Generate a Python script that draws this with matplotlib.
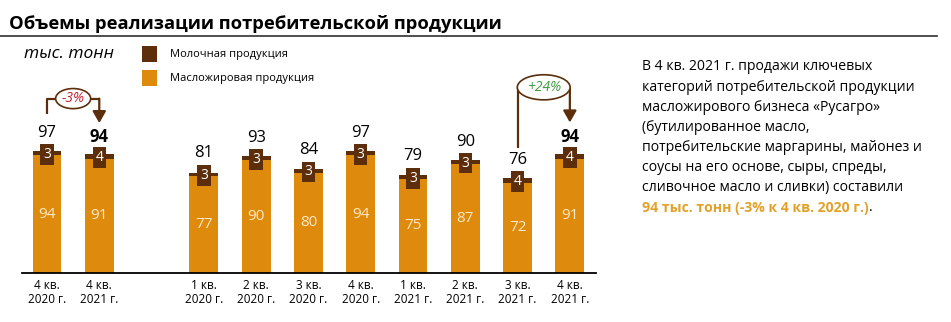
import matplotlib.pyplot as plt
from matplotlib.patches import Ellipse, Rectangle
from matplotlib.lines import Line2D

plt.rcParams["font.family"] = ["Open Sans", "DejaVu Sans"]

# data
categories = ["4 кв.\n2020 г.", "4 кв.\n2021 г.",
              "1 кв.\n2020 г.", "2 кв.\n2020 г.", "3 кв.\n2020 г.", "4 кв.\n2020 г.",
              "1 кв.\n2021 г.", "2 кв.\n2021 г.", "3 кв.\n2021 г.", "4 кв.\n2021 г."]
positions = [0, 1, 3, 4, 5, 6, 7, 8, 9, 10]
oil_fat = [94, 91, 77, 90, 80, 94, 75, 87, 72, 91]
dairy = [3, 4, 3, 3, 3, 3, 3, 3, 4, 4]
totals = [97, 94, 81, 93, 84, 97, 79, 90, 76, 94]
bold_totals = [1, 9]

yoy_change = "-3%"
qoq_change = "+24%"

ORANGE = "#DE8A0C"
BROWN = "#5C2E0B"
CREAM = "#FCE9C8"

W, H = 951, 322
fig = plt.figure(figsize=(W / 100, H / 100), dpi=100)

# axes placed in pixels: baseline at y=273, x from 22 to 596
ax = fig.add_axes([22 / W, (H - 273) / H, (596 - 22) / W, (273 - 40) / H])
ax.set_xlim(-0.478, 10.5)
ax.set_ylim(0, 185.7)

ax.bar(positions, oil_fat, width=0.55, color=ORANGE, zorder=2)
ax.bar(positions, dairy, bottom=oil_fat, width=0.55, color=BROWN, zorder=2)

for i, (x, o, d, t) in enumerate(zip(positions, oil_fat, dairy, totals)):
    ax.text(x, o / 2, str(o), ha="center", va="center", color=CREAM, fontsize=11)
    ax.text(x, o + d / 2 - 1, str(d), ha="center", va="center", color="white",
            fontsize=10, zorder=4,
            bbox=dict(boxstyle="square,pad=0.2", fc=BROWN, ec="none"))
    ax.annotate(str(t), xy=(x, t), xytext=(0, 13), textcoords="offset points",
                ha="center", va="center", fontsize=12,
                fontweight="bold" if i in bold_totals else "normal")

for s in ["top", "left", "right"]:
    ax.spines[s].set_visible(False)
ax.spines["bottom"].set_linewidth(1.3)
ax.set_yticks([])
ax.set_xticks(positions)
ax.set_xticklabels(categories, fontsize=8.5, linespacing=1.1)
ax.tick_params(axis="x", length=0, pad=4)


def change_arrow(x0, x1, y_start, y_top, y_tip, label, color, ew, eh):
    xm = (x0 + x1) / 2
    ax.plot([x0, x0, x1, x1], [y_start, y_top, y_top, y_top], color=BROWN, lw=1.6,
            solid_capstyle="butt", clip_on=False)
    ax.annotate("", xy=(x1, y_tip), xytext=(x1, y_top),
                arrowprops=dict(arrowstyle="-|>,head_length=0.7,head_width=0.4",
                                color=BROWN, lw=1.6, shrinkA=0, shrinkB=0),
                annotation_clip=False)
    ax.add_patch(Ellipse((xm, y_top), ew, eh, fc="white", ec=BROWN, lw=1.2,
                         zorder=5, clip_on=False))
    ax.text(xm, y_top, label, ha="center", va="center", color=color, fontsize=10,
            style="italic", zorder=6)


change_arrow(positions[0], positions[1], totals[0] + 30, totals[0] + 42,
             totals[1] + 25.5, yoy_change, "#C8202F", 0.67, 16)
change_arrow(positions[8], positions[9], totals[8] + 24, totals[8] + 72,
             totals[9] + 26, qoq_change, "#3E9A3E", 1.01, 20)

# title and rule
fig.text(9 / W, 1 - 24 / H, "Объемы реализации потребительской продукции",
         fontsize=13.2, fontweight="bold", va="center")
fig.add_artist(Line2D([0, 937 / W], [1 - 36 / H, 1 - 36 / H], color="#404040", lw=1.3))
fig.text(24 / W, 1 - 54 / H, "тыс. тонн", fontsize=12.5, style="italic", va="center")

# legend
for yc, col, lab in [(54, BROWN, "Молочная продукция"), (78, ORANGE, "Масложировая продукция")]:
    fig.add_artist(Rectangle((142 / W, 1 - (yc + 7.5) / H), 15 / W, 15 / H,
                             fc=col, ec="none", transform=fig.transFigure))
    fig.text(170 / W, 1 - yc / H, lab, fontsize=8, va="center")

# commentary
lines = ["В 4 кв. 2021 г. продажи ключевых",
         "категорий потребительской продукции",
         "масложирового бизнеса «Русагро»",
         "(бутилированное масло,",
         "потребительские маргарины, майонез и",
         "соусы на его основе, сыры, спреды,",
         "сливочное масло и сливки) составили"]
for k, line in enumerate(lines):
    fig.text(642 / W, 1 - (67 + 20.1 * k) / H, line, fontsize=10.1, va="center")
hl = fig.text(642 / W, 1 - (67 + 20.1 * 7) / H, "94 тыс. тонн (-3% к 4 кв. 2020 г.)",
              fontsize=10.1, va="center", color="#E3A12A", fontweight="bold")
ax.annotate(".", xy=(1, 0), xycoords=hl, va="bottom", ha="left", fontsize=10.1)

fig.savefig("out.png", dpi=100)
